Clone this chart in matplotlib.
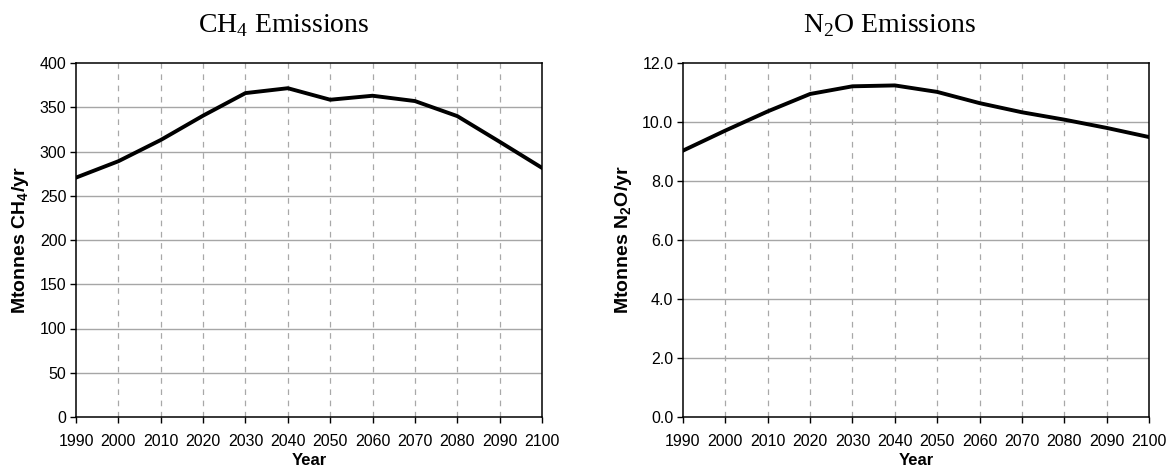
import numpy as np
import matplotlib.pyplot as plt

plt.rcParams['font.family'] = 'Liberation Sans'
plt.rcParams['mathtext.fontset'] = 'custom'
plt.rcParams['mathtext.rm'] = 'Liberation Serif'
plt.rcParams['mathtext.bf'] = 'Liberation Sans:bold'

# data
years = [1990, 2000, 2010, 2020, 2030, 2040, 2050, 2060, 2070, 2080, 2090, 2100]
ch4 = [270.5, 289, 313, 340.5, 366, 371.5, 358.5, 363, 357, 340, 311, 281.5]
n2o = [9.03, 9.71, 10.36, 10.95, 11.21, 11.24, 11.02, 10.64, 10.33, 10.08, 9.80, 9.49]

ch4_ticks = np.arange(0, 401, 50)
n2o_ticks = np.arange(0, 12.1, 2.0)

fig = plt.figure(figsize=(11.72, 4.70), dpi=100)
W, H = 1172, 470

def make_axes(x0, x1, y0, y1):
    return fig.add_axes([x0 / W, 1 - y1 / H, (x1 - x0) / W, (y1 - y0) / H])

ax1 = make_axes(76, 542, 63, 417)
ax2 = make_axes(683, 1149, 63, 417)

panels = [
    (ax1, ch4, ch4_ticks, 400, 'Mtonnes CH$_{\\mathbf{4}}$/yr', 'CH$_{\\mathrm{4}}$ Emissions', 284, '{:.0f}'),
    (ax2, n2o, n2o_ticks, 12, 'Mtonnes N$_{\\mathbf{2}}$O/yr', 'N$_{\\mathrm{2}}$O Emissions', 889, '{:.1f}'),
]

for ax, vals, yt, ymax, ylab, title, tx, fmt in panels:
    ax.plot(years, vals, color='black', lw=2.8, solid_joinstyle='miter', zorder=3)
    ax.set_xlim(1990, 2100)
    ax.set_ylim(0, ymax)
    ax.set_xticks(years)
    ax.set_yticks(yt)
    ax.set_yticklabels([fmt.format(v) for v in yt])
    for y in yt[1:-1]:
        ax.axhline(y, color='#a6a6a6', lw=1.0, zorder=1)
    for x in years[1:-1]:
        ax.axvline(x, color='#a8a8a8', lw=0.9, ls=(0, (4.5, 4.5)), zorder=1)
    for s in ax.spines.values():
        s.set_color('black')
        s.set_linewidth(1.1)
    ax.tick_params(direction='out', length=4, width=1, labelsize=11.5, colors='black')
    ax.tick_params(axis='x', pad=8)
    ax.tick_params(axis='y', pad=3)
    ax.set_ylabel(ylab, fontsize=14, fontweight='bold', labelpad=6)
    ax.set_xlabel('Year', fontsize=12, fontweight='bold', labelpad=3)
    fig.text(tx / W, 1 - 32 / H, title, fontsize=20, family='Liberation Serif',
             ha='center', va='baseline')

fig.savefig('out.png', dpi=100)
